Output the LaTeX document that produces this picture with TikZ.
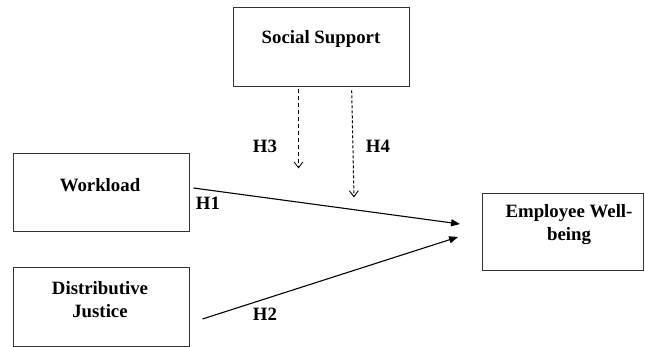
\documentclass[tikz,border=0pt]{standalone}
\usepackage{fontspec}
\setmainfont{Liberation Serif}
\usetikzlibrary{arrows.meta,calc}
\begin{document}
\begin{tikzpicture}[x=1pt,y=1pt,
  box/.style={draw=black!80,line width=0.9pt,inner sep=0pt,rectangle},
  lbl/.style={font=\fontsize{18.8}{23}\selectfont\bfseries,inner sep=0pt,anchor=base,align=center},
  solidarr/.style={line width=1.1pt,-{Triangle[length=9pt,width=7pt]}},
  dasharr/.style={line width=0.8pt,dash pattern=on 4pt off 3pt,-{Straight Barb[length=6pt,width=9pt,line width=0.8pt]}},
  dasharrb/.style={line width=1pt,dash pattern=on 3pt off 2pt,-{Straight Barb[length=6pt,width=9pt,line width=0.9pt]}}]
\useasboundingbox (0,0) rectangle (645,347);
% boxes
\node[box,minimum width=176pt,minimum height=79pt] (ss) at (321,300.5) {};
\node[box,minimum width=176pt,minimum height=78pt] (wl) at (101,155) {};
\node[box,minimum width=176pt,minimum height=79pt] (dj) at (101,40.5) {};
\node[box,minimum width=161pt,minimum height=77pt] (ew) at (563,115.5) {};
% box texts
\node[lbl] (ssT) at (321,303) {Social Support};
\node[lbl] (wlT) at (100,155.5) {Workload};
\node[lbl] (djT) at (100,29) {Distributive\\Justice};
\node[lbl] (ewT) at (569,106) {Employee Well-\\being};
% connector ends
\coordinate (h1s) at ($(wl.east)+(4,4)$);
\coordinate (h1e) at ($(ew.west)+(-22,7.5)$);
\coordinate (h2s) at ($(dj.east)+(13,-12.5)$);
\coordinate (h2e) at ($(ew.west)+(-24,-5.5)$);
\coordinate (h3s) at ($(ss.south)+(-22.5,-3)$);
\coordinate (h3e) at ($(ss.south)+(-22.5,-82)$);
\coordinate (h4s) at ($(ss.south)+(30.7,-4)$);
\coordinate (h4e) at ($(ss.south)+(33,-111)$);
% connectors
\draw[solidarr] (h1s) -- (h1e);
\draw[solidarr] (h2s) -- (h2e);
\draw[dasharr] (h3s) -- (h3e);
\draw[dasharrb] (h4s) -- (h4e);
% labels
\node[lbl] (H1) at (208,137.7) {H1};
\node[lbl] (H2) at (265,26.3) {H2};
\node[lbl] (H3) at (265,194.3) {H3};
\node[lbl] (H4) at (378,194.3) {H4};
\end{tikzpicture}
\end{document}
